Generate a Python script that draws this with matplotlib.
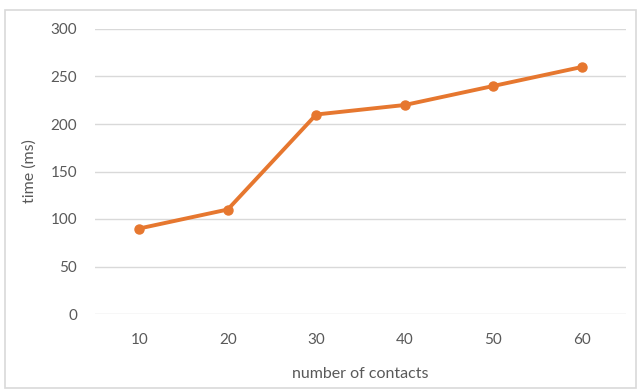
import matplotlib
matplotlib.use("Agg")
import matplotlib.pyplot as plt
from matplotlib.patches import Rectangle

# contacts vs. lookup time
contacts = ["10", "20", "30", "40", "50", "60"]
time_ms = [90, 110, 210, 220, 240, 260]
y_ticks = [0, 50, 100, 150, 200, 250, 300]

W, H = 641, 390
fig = plt.figure(figsize=(W / 100, H / 100), dpi=100)
plt.rcParams['font.family'] = ['Lato', 'DejaVu Sans']

# chart frame
fig.patches.append(Rectangle((5 / W, 1 - 388 / H), 631 / W, 378 / H,
                             transform=fig.transFigure, fill=False,
                             edgecolor='#d9d9d9', linewidth=1.2))

ax = fig.add_axes([95 / W, 1 - 314 / H, 531 / W, 285 / H])
x = range(len(contacts))
ax.plot(x, time_ms, color='#E6772F', linewidth=2.8, marker='o',
        markersize=6.5, solid_capstyle='round')

ax.set_xlim(-0.5, len(contacts) - 0.5)
ax.set_ylim(0, 300)
ax.set_yticks(y_ticks)
ax.set_xticks(list(x))
ax.set_xticklabels(contacts)
ax.yaxis.grid(True, color='#d9d9d9', linewidth=1)
ax.set_axisbelow(True)
for s in ax.spines.values():
    s.set_visible(False)
ax.tick_params(length=0, labelsize=11, labelcolor='#595959')
ax.tick_params(axis='y', pad=13)
ax.tick_params(axis='x', pad=14)

ax.set_xlabel('number of contacts', fontsize=11.5, color='#595959', labelpad=14)
ax.set_ylabel('time (ms)', fontsize=11.5, color='#595959', labelpad=10)

fig.savefig('out.png', dpi=100)
